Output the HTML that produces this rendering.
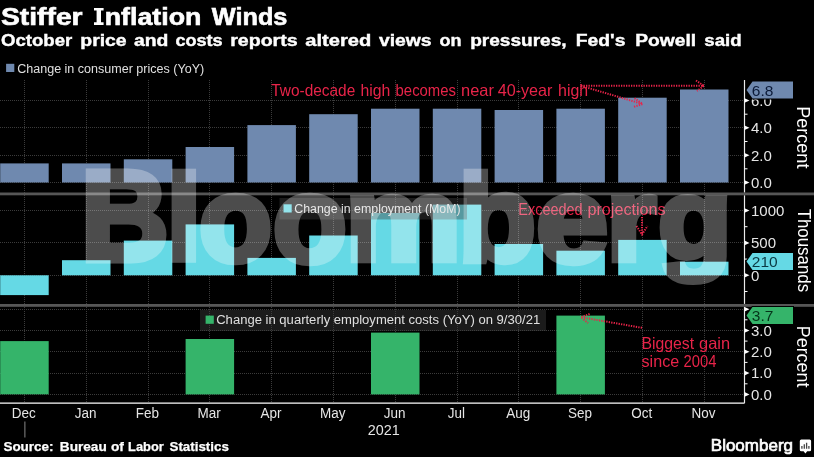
<!DOCTYPE html><html><head><meta charset="utf-8"><title>Stiffer Inflation Winds</title>
<style>html,body{margin:0;padding:0;background:#000;}body{width:814px;height:457px;overflow:hidden;font-family:"Liberation Sans",sans-serif;}svg{display:block;will-change:transform;opacity:0.9999}text{font-family:"Liberation Sans",sans-serif;}</style></head><body>
<svg width="814" height="457" viewBox="0 0 814 457">
<rect width="814" height="457" fill="#000"/>
<g font-size="23" font-weight="bold" fill="#fff" stroke="#fff" stroke-width="0.6">
<text x="1.0" y="24.8" textLength="81.6" lengthAdjust="spacingAndGlyphs">Stiffer</text>
<text x="104.7" y="24.8" textLength="96.7" lengthAdjust="spacingAndGlyphs">nflation</text>
<text x="211.8" y="24.8" textLength="75.6" lengthAdjust="spacingAndGlyphs">Winds</text>
</g>
<path d="M94,7.9 h9.6 v2.7 h-2.6 v11.6 h2.6 v2.7 h-9.6 v-2.7 h2.6 v-11.6 h-2.6z" fill="#fff"/>
<g font-size="16" font-weight="bold" fill="#fff" stroke="#fff" stroke-width="0.4">
<text x="1.0" y="46.2" textLength="71.3" lengthAdjust="spacingAndGlyphs">October</text>
<text x="80.3" y="46.2" textLength="46.3" lengthAdjust="spacingAndGlyphs">price</text>
<text x="134.0" y="46.2" textLength="34.4" lengthAdjust="spacingAndGlyphs">and</text>
<text x="175.4" y="46.2" textLength="47.2" lengthAdjust="spacingAndGlyphs">costs</text>
<text x="230.2" y="46.2" textLength="67.4" lengthAdjust="spacingAndGlyphs">reports</text>
<text x="305.3" y="46.2" textLength="65.9" lengthAdjust="spacingAndGlyphs">altered</text>
<text x="379.0" y="46.2" textLength="52.6" lengthAdjust="spacingAndGlyphs">views</text>
<text x="439.4" y="46.2" textLength="22.0" lengthAdjust="spacingAndGlyphs">on</text>
<text x="470.2" y="46.2" textLength="96.4" lengthAdjust="spacingAndGlyphs">pressures,</text>
<text x="575.8" y="46.2" textLength="49.6" lengthAdjust="spacingAndGlyphs">Fed&#39;s</text>
<text x="635.3" y="46.2" textLength="60.8" lengthAdjust="spacingAndGlyphs">Powell</text>
<text x="704.3" y="46.2" textLength="37.3" lengthAdjust="spacingAndGlyphs">said</text>
</g>
<line x1="24.5" y1="80" x2="24.5" y2="193" stroke="#3c3c3c" stroke-width="1" stroke-dasharray="1,1"/>
<line x1="86.5" y1="80" x2="86.5" y2="193" stroke="#3c3c3c" stroke-width="1" stroke-dasharray="1,1"/>
<line x1="148.5" y1="80" x2="148.5" y2="193" stroke="#3c3c3c" stroke-width="1" stroke-dasharray="1,1"/>
<line x1="209.5" y1="80" x2="209.5" y2="193" stroke="#3c3c3c" stroke-width="1" stroke-dasharray="1,1"/>
<line x1="271.5" y1="80" x2="271.5" y2="193" stroke="#3c3c3c" stroke-width="1" stroke-dasharray="1,1"/>
<line x1="333.5" y1="80" x2="333.5" y2="193" stroke="#3c3c3c" stroke-width="1" stroke-dasharray="1,1"/>
<line x1="395.5" y1="80" x2="395.5" y2="193" stroke="#3c3c3c" stroke-width="1" stroke-dasharray="1,1"/>
<line x1="457.5" y1="80" x2="457.5" y2="193" stroke="#3c3c3c" stroke-width="1" stroke-dasharray="1,1"/>
<line x1="518.5" y1="80" x2="518.5" y2="193" stroke="#3c3c3c" stroke-width="1" stroke-dasharray="1,1"/>
<line x1="580.5" y1="80" x2="580.5" y2="193" stroke="#3c3c3c" stroke-width="1" stroke-dasharray="1,1"/>
<line x1="642.5" y1="80" x2="642.5" y2="193" stroke="#3c3c3c" stroke-width="1" stroke-dasharray="1,1"/>
<line x1="704.5" y1="80" x2="704.5" y2="193" stroke="#3c3c3c" stroke-width="1" stroke-dasharray="1,1"/>
<line x1="0" y1="182.5" x2="744.5" y2="182.5" stroke="#3c3c3c" stroke-width="1" stroke-dasharray="1,1"/>
<line x1="0" y1="155.5" x2="744.5" y2="155.5" stroke="#3c3c3c" stroke-width="1" stroke-dasharray="1,1"/>
<line x1="0" y1="127.5" x2="744.5" y2="127.5" stroke="#3c3c3c" stroke-width="1" stroke-dasharray="1,1"/>
<line x1="0" y1="100.5" x2="744.5" y2="100.5" stroke="#3c3c3c" stroke-width="1" stroke-dasharray="1,1"/>
<line x1="24.5" y1="193" x2="24.5" y2="305" stroke="#3c3c3c" stroke-width="1" stroke-dasharray="1,1"/>
<line x1="86.5" y1="193" x2="86.5" y2="305" stroke="#3c3c3c" stroke-width="1" stroke-dasharray="1,1"/>
<line x1="148.5" y1="193" x2="148.5" y2="305" stroke="#3c3c3c" stroke-width="1" stroke-dasharray="1,1"/>
<line x1="209.5" y1="193" x2="209.5" y2="305" stroke="#3c3c3c" stroke-width="1" stroke-dasharray="1,1"/>
<line x1="271.5" y1="193" x2="271.5" y2="305" stroke="#3c3c3c" stroke-width="1" stroke-dasharray="1,1"/>
<line x1="333.5" y1="193" x2="333.5" y2="305" stroke="#3c3c3c" stroke-width="1" stroke-dasharray="1,1"/>
<line x1="395.5" y1="193" x2="395.5" y2="305" stroke="#3c3c3c" stroke-width="1" stroke-dasharray="1,1"/>
<line x1="457.5" y1="193" x2="457.5" y2="305" stroke="#3c3c3c" stroke-width="1" stroke-dasharray="1,1"/>
<line x1="518.5" y1="193" x2="518.5" y2="305" stroke="#3c3c3c" stroke-width="1" stroke-dasharray="1,1"/>
<line x1="580.5" y1="193" x2="580.5" y2="305" stroke="#3c3c3c" stroke-width="1" stroke-dasharray="1,1"/>
<line x1="642.5" y1="193" x2="642.5" y2="305" stroke="#3c3c3c" stroke-width="1" stroke-dasharray="1,1"/>
<line x1="704.5" y1="193" x2="704.5" y2="305" stroke="#3c3c3c" stroke-width="1" stroke-dasharray="1,1"/>
<line x1="0" y1="275.5" x2="744.5" y2="275.5" stroke="#3c3c3c" stroke-width="1" stroke-dasharray="1,1"/>
<line x1="0" y1="242.5" x2="744.5" y2="242.5" stroke="#3c3c3c" stroke-width="1" stroke-dasharray="1,1"/>
<line x1="0" y1="210.5" x2="744.5" y2="210.5" stroke="#3c3c3c" stroke-width="1" stroke-dasharray="1,1"/>
<line x1="24.5" y1="305" x2="24.5" y2="403" stroke="#3c3c3c" stroke-width="1" stroke-dasharray="1,1"/>
<line x1="86.5" y1="305" x2="86.5" y2="403" stroke="#3c3c3c" stroke-width="1" stroke-dasharray="1,1"/>
<line x1="148.5" y1="305" x2="148.5" y2="403" stroke="#3c3c3c" stroke-width="1" stroke-dasharray="1,1"/>
<line x1="209.5" y1="305" x2="209.5" y2="403" stroke="#3c3c3c" stroke-width="1" stroke-dasharray="1,1"/>
<line x1="271.5" y1="305" x2="271.5" y2="403" stroke="#3c3c3c" stroke-width="1" stroke-dasharray="1,1"/>
<line x1="333.5" y1="305" x2="333.5" y2="403" stroke="#3c3c3c" stroke-width="1" stroke-dasharray="1,1"/>
<line x1="395.5" y1="305" x2="395.5" y2="403" stroke="#3c3c3c" stroke-width="1" stroke-dasharray="1,1"/>
<line x1="457.5" y1="305" x2="457.5" y2="403" stroke="#3c3c3c" stroke-width="1" stroke-dasharray="1,1"/>
<line x1="518.5" y1="305" x2="518.5" y2="403" stroke="#3c3c3c" stroke-width="1" stroke-dasharray="1,1"/>
<line x1="580.5" y1="305" x2="580.5" y2="403" stroke="#3c3c3c" stroke-width="1" stroke-dasharray="1,1"/>
<line x1="642.5" y1="305" x2="642.5" y2="403" stroke="#3c3c3c" stroke-width="1" stroke-dasharray="1,1"/>
<line x1="704.5" y1="305" x2="704.5" y2="403" stroke="#3c3c3c" stroke-width="1" stroke-dasharray="1,1"/>
<line x1="0" y1="394.5" x2="744.5" y2="394.5" stroke="#3c3c3c" stroke-width="1" stroke-dasharray="1,1"/>
<line x1="0" y1="373.5" x2="744.5" y2="373.5" stroke="#3c3c3c" stroke-width="1" stroke-dasharray="1,1"/>
<line x1="0" y1="351.5" x2="744.5" y2="351.5" stroke="#3c3c3c" stroke-width="1" stroke-dasharray="1,1"/>
<line x1="0" y1="330.5" x2="744.5" y2="330.5" stroke="#3c3c3c" stroke-width="1" stroke-dasharray="1,1"/>
<line x1="0" y1="309.5" x2="744.5" y2="309.5" stroke="#3c3c3c" stroke-width="1" stroke-dasharray="1,1"/>
<rect x="0.2" y="163.4" width="48.5" height="19.1" fill="#708ab0"/>
<rect x="62.0" y="163.4" width="48.5" height="19.1" fill="#708ab0"/>
<rect x="123.8" y="159.3" width="48.5" height="23.2" fill="#708ab0"/>
<rect x="185.6" y="147.0" width="48.5" height="35.5" fill="#708ab0"/>
<rect x="247.4" y="125.1" width="48.5" height="57.4" fill="#708ab0"/>
<rect x="309.2" y="114.2" width="48.5" height="68.3" fill="#708ab0"/>
<rect x="371.0" y="108.7" width="48.5" height="73.8" fill="#708ab0"/>
<rect x="432.8" y="108.7" width="48.5" height="73.8" fill="#708ab0"/>
<rect x="494.6" y="110.0" width="48.5" height="72.5" fill="#708ab0"/>
<rect x="556.4" y="108.7" width="48.5" height="73.8" fill="#708ab0"/>
<rect x="618.2" y="97.7" width="48.5" height="84.8" fill="#708ab0"/>
<rect x="680.0" y="89.5" width="48.5" height="93.0" fill="#708ab0"/>
<rect x="0.2" y="275.3" width="48.5" height="19.8" fill="#66dae6"/>
<rect x="62.0" y="260.2" width="48.5" height="15.1" fill="#66dae6"/>
<rect x="123.8" y="240.6" width="48.5" height="34.7" fill="#66dae6"/>
<rect x="185.6" y="224.4" width="48.5" height="50.9" fill="#66dae6"/>
<rect x="247.4" y="257.9" width="48.5" height="17.4" fill="#66dae6"/>
<rect x="309.2" y="235.5" width="48.5" height="39.8" fill="#66dae6"/>
<rect x="371.0" y="213.0" width="48.5" height="62.3" fill="#66dae6"/>
<rect x="432.8" y="204.6" width="48.5" height="70.7" fill="#66dae6"/>
<rect x="494.6" y="244.0" width="48.5" height="31.3" fill="#66dae6"/>
<rect x="556.4" y="250.7" width="48.5" height="24.6" fill="#66dae6"/>
<rect x="618.2" y="239.9" width="48.5" height="35.4" fill="#66dae6"/>
<rect x="680.0" y="261.7" width="48.5" height="13.6" fill="#66dae6"/>
<rect x="0.2" y="341.1" width="48.5" height="53.2" fill="#36b56b"/>
<rect x="185.6" y="339.0" width="48.5" height="55.4" fill="#36b56b"/>
<rect x="371.0" y="332.6" width="48.5" height="61.8" fill="#36b56b"/>
<rect x="556.4" y="315.6" width="48.5" height="78.8" fill="#36b56b"/>
<rect x="0" y="192.5" width="814" height="2.8" fill="#575757"/>
<rect x="0" y="304.0" width="814" height="2.8" fill="#575757"/>
<line x1="0" y1="403.2" x2="744.5" y2="403.2" stroke="#fff" stroke-width="1.2"/>
<line x1="744.5" y1="80" x2="744.5" y2="192.4" stroke="#ececec" stroke-width="1.2"/>
<line x1="744.5" y1="195.4" x2="744.5" y2="303.9" stroke="#ececec" stroke-width="1.2"/>
<line x1="744.5" y1="306.9" x2="744.5" y2="403.2" stroke="#ececec" stroke-width="1.2"/>
<path d="M744.5,180.2 L749.5,182.5 L744.5,184.8Z" fill="#fff"/>
<text x="751.0" y="187.8" font-size="15" fill="#e6e6e6">0.0</text>
<path d="M744.5,152.9 L749.5,155.2 L744.5,157.5Z" fill="#fff"/>
<text x="751.0" y="160.5" font-size="15" fill="#e6e6e6">2.0</text>
<path d="M744.5,125.5 L749.5,127.8 L744.5,130.1Z" fill="#fff"/>
<text x="751.0" y="133.1" font-size="15" fill="#e6e6e6">4.0</text>
<path d="M744.5,98.2 L749.5,100.5 L744.5,102.8Z" fill="#fff"/>
<text x="751.0" y="105.8" font-size="15" fill="#e6e6e6">6.0</text>
<line x1="744.5" y1="168.8" x2="747.5" y2="168.8" stroke="#fff" stroke-width="1"/>
<line x1="744.5" y1="141.5" x2="747.5" y2="141.5" stroke="#fff" stroke-width="1"/>
<line x1="744.5" y1="114.2" x2="747.5" y2="114.2" stroke="#fff" stroke-width="1"/>
<path d="M744.5,273.0 L749.5,275.3 L744.5,277.6Z" fill="#fff"/>
<text x="751.0" y="280.6" font-size="15" fill="#e6e6e6">0</text>
<path d="M744.5,240.6 L749.5,242.9 L744.5,245.2Z" fill="#fff"/>
<text x="751.0" y="248.2" font-size="15" fill="#e6e6e6">500</text>
<path d="M744.5,208.2 L749.5,210.5 L744.5,212.8Z" fill="#fff"/>
<text x="751.0" y="215.8" font-size="15" fill="#e6e6e6">1000</text>
<line x1="744.5" y1="291.5" x2="747.5" y2="291.5" stroke="#fff" stroke-width="1"/>
<line x1="744.5" y1="259.1" x2="747.5" y2="259.1" stroke="#fff" stroke-width="1"/>
<line x1="744.5" y1="226.7" x2="747.5" y2="226.7" stroke="#fff" stroke-width="1"/>
<path d="M744.5,392.1 L749.5,394.4 L744.5,396.7Z" fill="#fff"/>
<text x="751.0" y="399.7" font-size="15" fill="#e6e6e6">0.0</text>
<path d="M744.5,370.8 L749.5,373.1 L744.5,375.4Z" fill="#fff"/>
<text x="751.0" y="378.4" font-size="15" fill="#e6e6e6">1.0</text>
<path d="M744.5,349.5 L749.5,351.8 L744.5,354.1Z" fill="#fff"/>
<text x="751.0" y="357.1" font-size="15" fill="#e6e6e6">2.0</text>
<path d="M744.5,328.2 L749.5,330.5 L744.5,332.8Z" fill="#fff"/>
<text x="751.0" y="335.8" font-size="15" fill="#e6e6e6">3.0</text>
<line x1="744.5" y1="383.8" x2="747.5" y2="383.8" stroke="#fff" stroke-width="1"/>
<line x1="744.5" y1="362.4" x2="747.5" y2="362.4" stroke="#fff" stroke-width="1"/>
<line x1="744.5" y1="341.1" x2="747.5" y2="341.1" stroke="#fff" stroke-width="1"/>
<line x1="744.5" y1="319.8" x2="747.5" y2="319.8" stroke="#fff" stroke-width="1"/>
<path d="M744.5,306.9 L749.5,309.2 L744.5,311.5Z" fill="#fff"/>
<path d="M746.5,90 L752.5,81.5 L793,81.5 L793,98.5 L752.5,98.5Z" fill="#708ab0" stroke="#000" stroke-width="2" paint-order="stroke"/>
<text x="751.8" y="95.6" font-size="15.5" fill="#0d1c3a">6.8</text>
<path d="M746.5,261.5 L752.5,253.0 L793,253.0 L793,270.0 L752.5,270.0Z" fill="#66dae6" stroke="#000" stroke-width="2" paint-order="stroke"/>
<text x="751.8" y="267.1" font-size="15.5" fill="#0b3a44">210</text>
<path d="M746.5,315.4 L752.5,306.9 L793,306.9 L793,323.9 L752.5,323.9Z" fill="#36b56b" stroke="#000" stroke-width="2" paint-order="stroke"/>
<text x="751.8" y="321.0" font-size="15.5" fill="#06351b">3.7</text>
<text transform="translate(797.4,137.3) rotate(90)" x="-31.15" font-size="18.3" fill="#fff" textLength="62.3" lengthAdjust="spacingAndGlyphs">Percent</text>
<text transform="translate(797.5,250.4) rotate(90)" x="-41.75" font-size="17.5" fill="#fff" textLength="83.5" lengthAdjust="spacingAndGlyphs">Thousands</text>
<text transform="translate(797.4,356.6) rotate(90)" x="-30.75" font-size="18.3" fill="#fff" textLength="61.5" lengthAdjust="spacingAndGlyphs">Percent</text>
<rect x="6.1" y="63.8" width="8.2" height="8.2" fill="#708ab0"/>
<text x="17.2" y="72.6" font-size="12.5" fill="#e0e0e0" textLength="187" lengthAdjust="spacingAndGlyphs">Change in consumer prices (YoY)</text>
<rect x="279.5" y="198" width="187.5" height="21.5" fill="#434343" fill-opacity="0.42"/>
<rect x="283.5" y="204.3" width="8.2" height="8.2" fill="#66dae6"/>
<text x="294.2" y="213" font-size="12.5" fill="#e0e0e0" textLength="166.5" lengthAdjust="spacingAndGlyphs">Change in employment (MoM)</text>
<rect x="200" y="310" width="346" height="21" fill="#434343" fill-opacity="0.42"/>
<rect x="205.6" y="315.6" width="8.2" height="8.2" fill="#36b56b"/>
<text x="216.2" y="324.2" font-size="12.5" fill="#e0e0e0" textLength="324" lengthAdjust="spacingAndGlyphs">Change in quarterly employment costs (YoY) on 9/30/21</text>
<g font-size="16.5" font-weight="normal" fill="#e9254a" >
<text x="271.2" y="95.8" textLength="84.1" lengthAdjust="spacingAndGlyphs">Two-decade</text>
<text x="360.5" y="95.8" textLength="29.9" lengthAdjust="spacingAndGlyphs">high</text>
<text x="395.6" y="95.8" textLength="60.4" lengthAdjust="spacingAndGlyphs">becomes</text>
<text x="461.0" y="95.8" textLength="32.9" lengthAdjust="spacingAndGlyphs">near</text>
<text x="497.7" y="95.8" textLength="54.8" lengthAdjust="spacingAndGlyphs">40-year</text>
<text x="558.1" y="95.8" textLength="30.1" lengthAdjust="spacingAndGlyphs">high</text>
</g>
<path d="M581,85.8 L704,85.8 M696,80.5 L704,85.8 L697,91" stroke="#e9254a" stroke-width="2" stroke-dasharray="1.3,1.2" fill="none"/>
<path d="M581,85.8 L642.5,104 M634.5,98.2 L642.5,104 L633.3,107" stroke="#e9254a" stroke-width="2" stroke-dasharray="1.3,1.2" fill="none"/>
<g font-size="16.5" font-weight="normal" fill="#e9254a" >
<text x="518.3" y="215.3" textLength="64.3" lengthAdjust="spacingAndGlyphs">Exceeded</text>
<text x="587.4" y="215.3" textLength="78.3" lengthAdjust="spacingAndGlyphs">projections</text>
</g>
<path d="M642,217 L642,234.5 M636.5,226 L642,234.5 L647.5,226" stroke="#e9254a" stroke-width="2" stroke-dasharray="1.3,1.2" fill="none"/>
<g font-size="16.5" font-weight="normal" fill="#e9254a" >
<text x="641.4" y="348.8" textLength="52.8" lengthAdjust="spacingAndGlyphs">Biggest</text>
<text x="699.0" y="348.8" textLength="31.1" lengthAdjust="spacingAndGlyphs">gain</text>
</g>
<g font-size="16.5" font-weight="normal" fill="#e9254a" >
<text x="641.5" y="366.8" textLength="37.7" lengthAdjust="spacingAndGlyphs">since</text>
<text x="683.5" y="366.8" textLength="33.0" lengthAdjust="spacingAndGlyphs">2004</text>
</g>
<path d="M642,327.8 L581,317.2 M589.6,314 L581,317.2 L588,323" stroke="#e9254a" stroke-width="2" stroke-dasharray="1.3,1.2" fill="none"/>
<text transform="translate(23.8,417.6) scale(0.93,1)" text-anchor="middle" font-size="14.5" fill="#e6e6e6">Dec</text>
<text transform="translate(85.6,417.6) scale(0.93,1)" text-anchor="middle" font-size="14.5" fill="#e6e6e6">Jan</text>
<text transform="translate(147.4,417.6) scale(0.93,1)" text-anchor="middle" font-size="14.5" fill="#e6e6e6">Feb</text>
<text transform="translate(209.2,417.6) scale(0.93,1)" text-anchor="middle" font-size="14.5" fill="#e6e6e6">Mar</text>
<text transform="translate(271.0,417.6) scale(0.93,1)" text-anchor="middle" font-size="14.5" fill="#e6e6e6">Apr</text>
<text transform="translate(332.8,417.6) scale(0.93,1)" text-anchor="middle" font-size="14.5" fill="#e6e6e6">May</text>
<text transform="translate(394.6,417.6) scale(0.93,1)" text-anchor="middle" font-size="14.5" fill="#e6e6e6">Jun</text>
<text transform="translate(456.4,417.6) scale(0.93,1)" text-anchor="middle" font-size="14.5" fill="#e6e6e6">Jul</text>
<text transform="translate(518.2,417.6) scale(0.93,1)" text-anchor="middle" font-size="14.5" fill="#e6e6e6">Aug</text>
<text transform="translate(580.0,417.6) scale(0.93,1)" text-anchor="middle" font-size="14.5" fill="#e6e6e6">Sep</text>
<text transform="translate(641.8,417.6) scale(0.93,1)" text-anchor="middle" font-size="14.5" fill="#e6e6e6">Oct</text>
<text transform="translate(703.6,417.6) scale(0.93,1)" text-anchor="middle" font-size="14.5" fill="#e6e6e6">Nov</text>
<text transform="translate(383.8,435.1) scale(0.96,1)" text-anchor="middle" font-size="15" fill="#e6e6e6">2021</text>
<line x1="24.9" y1="421.5" x2="24.9" y2="437.5" stroke="#8a8a8a" stroke-width="1"/>
<g font-size="12" font-weight="bold" fill="#fff" stroke="#fff" stroke-width="0.25">
<text x="3.4" y="451.4" textLength="50.2" lengthAdjust="spacingAndGlyphs">Source:</text>
<text x="59.8" y="451.4" textLength="46.9" lengthAdjust="spacingAndGlyphs">Bureau</text>
<text x="110.9" y="451.4" textLength="13.0" lengthAdjust="spacingAndGlyphs">of</text>
<text x="128.1" y="451.4" textLength="35.7" lengthAdjust="spacingAndGlyphs">Labor</text>
<text x="169.5" y="451.4" textLength="59.3" lengthAdjust="spacingAndGlyphs">Statistics</text>
</g>
<text x="710.8" y="451.2" font-size="16.5" fill="#fff" stroke="#fff" stroke-width="0.7" textLength="82.2" lengthAdjust="spacingAndGlyphs">Bloomberg</text>
<path d="M801.3,439.5 h8.3 a1.5,1.5 0 0 1 1.5,1.5 v8.8 a1.5,1.5 0 0 1 -1.5,1.5 h-2.4 l-1.8,2.1 l-1.8,-2.1 h-2.3 a1.5,1.5 0 0 1 -1.5,-1.5 v-8.8 a1.5,1.5 0 0 1 1.5,-1.5z" fill="#fff"/>
<path d="M801.9,448.7 v-2.7 M804.3,448.7 v-4.5 M806.6,448.7 v-6 M808.9,448.7 v-2.7" stroke="#444" stroke-width="1.3"/>
<g id="wm" opacity="0.30" font-size="121" font-weight="bold" fill="#fff" stroke="#fff" stroke-width="6.6" stroke-linejoin="miter">
<text transform="translate(80.96,259.9) scale(1.003,1.0565)">B</text>
<text transform="translate(166.32,259.83) scale(1.0513,1.0001)">l</text>
<text transform="translate(199.12,261.12) scale(0.9877,1.0037)">o</text>
<text transform="translate(272.9,262.13) scale(0.9987,1.0036)">o</text>
<text transform="translate(345.14,260.33) scale(1.0768,0.9688)">m</text>
<text transform="translate(458.17,261.21) scale(1.0512,1.0098)">b</text>
<text transform="translate(536.24,262.09) scale(1.0664,1.0041)">e</text>
<text transform="translate(606.23,260.27) scale(1.0561,0.9694)">r</text>
<text transform="translate(657.99,258.49) scale(0.9993,0.9356)">g</text>
</g>
</svg></body></html>
